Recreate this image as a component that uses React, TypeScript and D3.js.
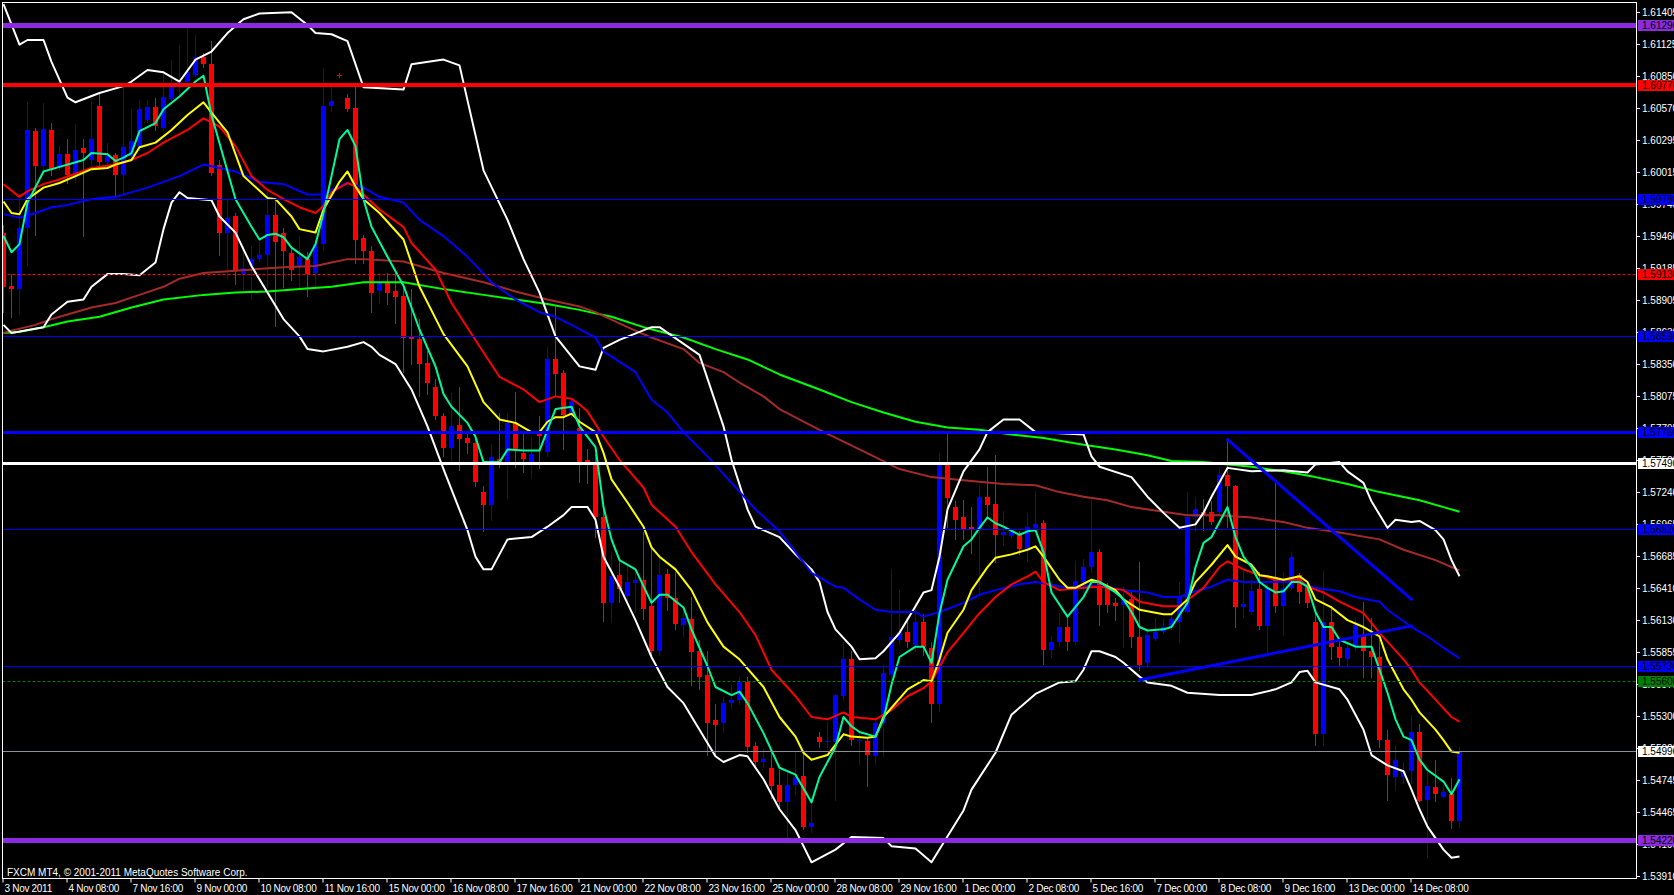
import { useEffect, useRef } from 'react';
import * as d3 from 'd3';

type Candle = [number, number, number, number]; // open, high, low, close
type Pt = [number, number]; // bar index, price

// GBPUSD H4, 3 Nov 2011 - 15 Dec 2011
const candles: Candle[] = [
  [1.5949, 1.5956, 1.5880, 1.5902], [1.5903, 1.5913, 1.5876, 1.5900], [1.5900, 1.5978, 1.5878, 1.5953], [1.5953, 1.6062, 1.5921, 1.6038],
  [1.6037, 1.6040, 1.5947, 1.6007], [1.6007, 1.6061, 1.6004, 1.6039], [1.6038, 1.6044, 1.5999, 1.6004], [1.6005, 1.6024, 1.6004, 1.6017],
  [1.6017, 1.6030, 1.5992, 1.5999], [1.6000, 1.6043, 1.5993, 1.6021], [1.6022, 1.6030, 1.5946, 1.6018], [1.6012, 1.6063, 1.6008, 1.6030],
  [1.6059, 1.6070, 1.6004, 1.6010], [1.6010, 1.6027, 1.6008, 1.6015], [1.6016, 1.6018, 1.5980, 1.5999], [1.5999, 1.6076, 1.5983, 1.6023],
  [1.6015, 1.6056, 1.6012, 1.6028], [1.6023, 1.6064, 1.6021, 1.6056], [1.6047, 1.6064, 1.6045, 1.6058], [1.6058, 1.6066, 1.6038, 1.6041],
  [1.6040, 1.6088, 1.6038, 1.6067], [1.6065, 1.6099, 1.6064, 1.6076], [1.6075, 1.6112, 1.6069, 1.6080], [1.6080, 1.6128, 1.6079, 1.6088],
  [1.6086, 1.6120, 1.6085, 1.6101], [1.6101, 1.6105, 1.6093, 1.6095], [1.6095, 1.6115, 1.5999, 1.6001], [1.6008, 1.6012, 1.5930, 1.5949],
  [1.5949, 1.5978, 1.5910, 1.5962], [1.5963, 1.5966, 1.5904, 1.5917], [1.5913, 1.5937, 1.5900, 1.5918], [1.5920, 1.5937, 1.5891, 1.5926],
  [1.5926, 1.5941, 1.5924, 1.5930], [1.5930, 1.5984, 1.5902, 1.5964], [1.5964, 1.5978, 1.5868, 1.5941], [1.5949, 1.5953, 1.5902, 1.5933],
  [1.5931, 1.5936, 1.5908, 1.5917], [1.5919, 1.5946, 1.5902, 1.5928], [1.5926, 1.5932, 1.5894, 1.5913], [1.5914, 1.5943, 1.5901, 1.5939],
  [1.5939, 1.6092, 1.5934, 1.6059], [1.6059, 1.6076, 1.6054, 1.6063], [1.6086, 1.6087, 1.6084, 1.6085], [1.6066, 1.6069, 1.6054, 1.6056],
  [1.6057, 1.6076, 1.5923, 1.5943], [1.5944, 1.5947, 1.5923, 1.5933], [1.5933, 1.5937, 1.5880, 1.5897], [1.5898, 1.5914, 1.5888, 1.5906],
  [1.5906, 1.5914, 1.5887, 1.5897], [1.5898, 1.5914, 1.5871, 1.5893], [1.5894, 1.5904, 1.5828, 1.5858], [1.5859, 1.5900, 1.5835, 1.5857],
  [1.5857, 1.5874, 1.5807, 1.5835], [1.5836, 1.5846, 1.5809, 1.5819], [1.5815, 1.5822, 1.5787, 1.5790], [1.5790, 1.5793, 1.5755, 1.5762],
  [1.5762, 1.5810, 1.5752, 1.5781], [1.5782, 1.5815, 1.5743, 1.5770], [1.5771, 1.5776, 1.5758, 1.5767], [1.5767, 1.5770, 1.5729, 1.5733],
  [1.5724, 1.5729, 1.5690, 1.5713], [1.5713, 1.5766, 1.5700, 1.5754], [1.5753, 1.5793, 1.5746, 1.5750], [1.5750, 1.5793, 1.5719, 1.5784],
  [1.5784, 1.5811, 1.5746, 1.5761], [1.5758, 1.5776, 1.5741, 1.5753], [1.5750, 1.5772, 1.5736, 1.5757], [1.5774, 1.5790, 1.5745, 1.5773],
  [1.5759, 1.5850, 1.5755, 1.5839], [1.5839, 1.5885, 1.5807, 1.5826], [1.5827, 1.5830, 1.5761, 1.5791], [1.5793, 1.5804, 1.5789, 1.5803],
  [1.5780, 1.5797, 1.5733, 1.5750], [1.5752, 1.5761, 1.5732, 1.5748], [1.5750, 1.5757, 1.5685, 1.5702], [1.5702, 1.5713, 1.5612, 1.5628],
  [1.5628, 1.5672, 1.5611, 1.5651], [1.5652, 1.5664, 1.5629, 1.5640], [1.5634, 1.5660, 1.5629, 1.5646], [1.5645, 1.5657, 1.5620, 1.5648],
  [1.5648, 1.5689, 1.5614, 1.5623], [1.5625, 1.5676, 1.5581, 1.5586], [1.5586, 1.5668, 1.5583, 1.5652], [1.5653, 1.5657, 1.5622, 1.5632],
  [1.5632, 1.5655, 1.5605, 1.5610], [1.5609, 1.5622, 1.5599, 1.5615], [1.5614, 1.5633, 1.5557, 1.5585], [1.5586, 1.5596, 1.5553, 1.5564],
  [1.5565, 1.5586, 1.5496, 1.5524], [1.5526, 1.5540, 1.5495, 1.5522], [1.5524, 1.5546, 1.5516, 1.5541], [1.5541, 1.5557, 1.5537, 1.5544],
  [1.5544, 1.5564, 1.5540, 1.5559], [1.5559, 1.5564, 1.5499, 1.5503], [1.5504, 1.5507, 1.5486, 1.5490], [1.5490, 1.5501, 1.5486, 1.5493],
  [1.5485, 1.5501, 1.5459, 1.5469], [1.5470, 1.5483, 1.5451, 1.5455], [1.5455, 1.5482, 1.5423, 1.5470], [1.5470, 1.5499, 1.5462, 1.5477],
  [1.5478, 1.5498, 1.5432, 1.5434], [1.5434, 1.5455, 1.5429, 1.5437], [1.5512, 1.5516, 1.5503, 1.5507], [1.5507, 1.5525, 1.5503, 1.5508],
  [1.5507, 1.5549, 1.5457, 1.5548], [1.5547, 1.5594, 1.5544, 1.5579], [1.5579, 1.5586, 1.5505, 1.5509], [1.5508, 1.5515, 1.5488, 1.5509],
  [1.5508, 1.5512, 1.5469, 1.5496], [1.5495, 1.5529, 1.5488, 1.5524], [1.5524, 1.5574, 1.5495, 1.5567], [1.5565, 1.5657, 1.5561, 1.5598],
  [1.5596, 1.5639, 1.5592, 1.5603], [1.5603, 1.5614, 1.5590, 1.5594], [1.5591, 1.5628, 1.5586, 1.5611], [1.5611, 1.5618, 1.5583, 1.5590],
  [1.5589, 1.5594, 1.5525, 1.5540], [1.5540, 1.5758, 1.5534, 1.5748], [1.5748, 1.5776, 1.5694, 1.5719], [1.5711, 1.5716, 1.5683, 1.5700],
  [1.5702, 1.5717, 1.5683, 1.5692], [1.5694, 1.5711, 1.5671, 1.5692], [1.5691, 1.5729, 1.5635, 1.5720], [1.5720, 1.5746, 1.5702, 1.5713],
  [1.5714, 1.5756, 1.5663, 1.5687], [1.5687, 1.5708, 1.5678, 1.5689], [1.5686, 1.5692, 1.5685, 1.5689], [1.5687, 1.5690, 1.5670, 1.5675],
  [1.5675, 1.5706, 1.5664, 1.5694], [1.5693, 1.5725, 1.5691, 1.5696], [1.5697, 1.5700, 1.5575, 1.5587], [1.5587, 1.5599, 1.5581, 1.5594],
  [1.5594, 1.5619, 1.5591, 1.5607], [1.5607, 1.5616, 1.5587, 1.5594], [1.5594, 1.5664, 1.5592, 1.5647], [1.5646, 1.5666, 1.5637, 1.5659],
  [1.5659, 1.5717, 1.5655, 1.5672], [1.5672, 1.5675, 1.5609, 1.5626], [1.5642, 1.5645, 1.5620, 1.5626], [1.5628, 1.5632, 1.5613, 1.5625],
  [1.5626, 1.5642, 1.5590, 1.5631], [1.5631, 1.5637, 1.5590, 1.5598], [1.5598, 1.5663, 1.5570, 1.5574], [1.5576, 1.5605, 1.5572, 1.5600],
  [1.5597, 1.5615, 1.5596, 1.5603], [1.5603, 1.5614, 1.5602, 1.5607], [1.5607, 1.5620, 1.5605, 1.5614], [1.5611, 1.5646, 1.5594, 1.5633],
  [1.5620, 1.5724, 1.5620, 1.5702], [1.5702, 1.5720, 1.5690, 1.5709], [1.5707, 1.5718, 1.5691, 1.5704], [1.5707, 1.5716, 1.5696, 1.5698],
  [1.5707, 1.5745, 1.5704, 1.5739], [1.5739, 1.5770, 1.5694, 1.5729], [1.5729, 1.5730, 1.5607, 1.5624], [1.5624, 1.5657, 1.5616, 1.5627],
  [1.5620, 1.5648, 1.5618, 1.5638], [1.5640, 1.5655, 1.5605, 1.5608], [1.5608, 1.5646, 1.5585, 1.5641], [1.5650, 1.5732, 1.5620, 1.5625],
  [1.5625, 1.5655, 1.5600, 1.5641], [1.5641, 1.5672, 1.5640, 1.5668], [1.5652, 1.5654, 1.5628, 1.5637], [1.5644, 1.5646, 1.5624, 1.5628],
  [1.5611, 1.5620, 1.5505, 1.5514], [1.5514, 1.5656, 1.5505, 1.5611], [1.5611, 1.5625, 1.5579, 1.5590], [1.5590, 1.5596, 1.5573, 1.5580],
  [1.5579, 1.5594, 1.5573, 1.5589], [1.5590, 1.5616, 1.5587, 1.5609], [1.5600, 1.5629, 1.5564, 1.5586], [1.5586, 1.5615, 1.5564, 1.5581],
  [1.5581, 1.5596, 1.5503, 1.5509], [1.5509, 1.5518, 1.5457, 1.5479], [1.5477, 1.5505, 1.5466, 1.5492], [1.5477, 1.5490, 1.5472, 1.5482],
  [1.5482, 1.5531, 1.5472, 1.5516], [1.5516, 1.5523, 1.5456, 1.5456], [1.5457, 1.5481, 1.5408, 1.5469], [1.5468, 1.5492, 1.5456, 1.5462],
  [1.5460, 1.5470, 1.5460, 1.5464], [1.5462, 1.5476, 1.5433, 1.5439], [1.5439, 1.5503, 1.5434, 1.54996],
];

const dateLabels = [
  '3 Nov 2011', '4 Nov 08:00', '7 Nov 16:00', '9 Nov 00:00', '10 Nov 08:00', '11 Nov 16:00', '15 Nov 00:00', '16 Nov 08:00',
  '17 Nov 16:00', '21 Nov 00:00', '22 Nov 08:00', '23 Nov 16:00', '25 Nov 00:00', '28 Nov 08:00', '29 Nov 16:00', '1 Dec 00:00',
  '2 Dec 08:00', '5 Dec 16:00', '7 Dec 00:00', '8 Dec 08:00', '9 Dec 16:00', '13 Dec 00:00', '14 Dec 08:00',
];
const barsPerLabel = 8;

const priceTicks = [
  1.61405, 1.61125, 1.60850, 1.60570, 1.60295, 1.60015, 1.59740, 1.59460, 1.59185, 1.58905, 1.58630, 1.58350, 1.58075, 1.57795,
  1.57520, 1.57240, 1.56965, 1.56685, 1.56410, 1.56130, 1.55855, 1.55575, 1.55300, 1.55020, 1.54745, 1.54465, 1.54190, 1.53910,
];

// indicator lines as [bar, price]
const fastMa: Pt[] = [
  [0, 1.5946], [1, 1.5932], [2, 1.5939], [3, 1.5975], [5, 1.6002], [7, 1.6006], [10, 1.6012], [11, 1.6018], [13, 1.6017], [14, 1.6011],
  [15, 1.6014], [16, 1.6018], [17, 1.6037], [19, 1.6044], [20, 1.6056], [22, 1.6067], [24, 1.6080], [25, 1.6085], [26, 1.6051], [29, 1.5978],
  [31, 1.5954], [32, 1.5943], [33, 1.5947], [34, 1.5948], [35, 1.5945], [36, 1.5936], [38, 1.5926], [39, 1.5939], [40, 1.5966], [42, 1.6030],
  [43, 1.6038], [44, 1.6024], [45, 1.5978], [46, 1.5954], [48, 1.5928], [50, 1.5903], [52, 1.5865], [54, 1.5833], [55, 1.5809], [56, 1.5798],
  [58, 1.5784], [59, 1.5772], [60, 1.5750], [62, 1.5750], [63, 1.5761], [65, 1.5760], [67, 1.5760], [68, 1.5778], [69, 1.5796], [71, 1.5798],
  [72, 1.5781], [74, 1.5763], [75, 1.5711], [76, 1.5683], [77, 1.5665], [79, 1.5657], [81, 1.5628], [82, 1.5635], [83, 1.5635], [85, 1.5624],
  [86, 1.5605], [88, 1.5573], [89, 1.5555], [91, 1.5548], [92, 1.5551], [93, 1.5541], [95, 1.5515], [97, 1.5485], [99, 1.5479], [101, 1.5455],
  [102, 1.5477], [104, 1.5503], [105, 1.5529], [106, 1.5521], [107, 1.5516], [109, 1.5512], [110, 1.5527], [111, 1.5557], [112, 1.5581], [114, 1.5590],
  [115, 1.5590], [116, 1.5576], [117, 1.5619], [118, 1.5648], [120, 1.5677], [121, 1.5683], [122, 1.5693], [123, 1.5702], [124, 1.5697], [125, 1.5694],
  [127, 1.5687], [128, 1.5690], [129, 1.5691], [130, 1.5672], [131, 1.5637], [133, 1.5616], [135, 1.5633], [136, 1.5646], [137, 1.5646], [139, 1.5637],
  [140, 1.5631], [141, 1.5620], [142, 1.5607], [143, 1.5604], [145, 1.5605], [146, 1.5607], [148, 1.5628], [149, 1.5659], [150, 1.5680], [151, 1.5685],
  [152, 1.5698], [153, 1.5711], [154, 1.5685], [155, 1.5668], [156, 1.5659], [157, 1.5646], [158, 1.5641], [159, 1.5637], [160, 1.5638], [161, 1.5646],
  [162, 1.5646], [163, 1.5642], [164, 1.5620], [165, 1.5607], [166, 1.5607], [167, 1.5596], [169, 1.5590], [171, 1.5590], [172, 1.5570], [173, 1.5550],
  [174, 1.5527], [175, 1.5512], [176, 1.5509], [177, 1.5492], [178, 1.5483], [180, 1.5473], [181, 1.5462], [182, 1.5475],
];

const yellowMa: Pt[] = [
  [0, 1.5976], [1, 1.5966], [2, 1.5965], [3, 1.5978], [5, 1.5988], [7, 1.5992], [9, 1.5998], [11, 1.6004], [13, 1.6005], [14, 1.6008],
  [16, 1.6012], [17, 1.6023], [19, 1.6027], [21, 1.6038], [23, 1.6051], [25, 1.6062], [26, 1.6053], [28, 1.6036], [30, 1.5998], [33, 1.5979],
  [34, 1.5978], [36, 1.5963], [37, 1.5952], [39, 1.5949], [40, 1.5969], [42, 1.5993], [43, 1.6002], [44, 1.5989], [45, 1.5978], [47, 1.5966],
  [50, 1.5943], [52, 1.5902], [55, 1.5861], [58, 1.5833], [60, 1.5802], [62, 1.5787], [64, 1.5784], [66, 1.5776], [67, 1.5776], [68, 1.5785],
  [69, 1.5789], [70, 1.5789], [71, 1.5792], [72, 1.5785], [74, 1.5776], [75, 1.5758], [76, 1.5735], [78, 1.5715], [80, 1.5694], [81, 1.5676],
  [82, 1.5668], [84, 1.5657], [86, 1.5639], [88, 1.5611], [90, 1.5590], [92, 1.5579], [95, 1.5555], [97, 1.5529], [99, 1.5512], [100, 1.5498],
  [101, 1.5492], [103, 1.5496], [105, 1.5514], [106, 1.5512], [108, 1.5511], [109, 1.5512], [110, 1.5529], [113, 1.5553], [115, 1.5561], [116, 1.5560],
  [117, 1.5579], [118, 1.5602], [120, 1.5622], [121, 1.5639], [123, 1.5659], [124, 1.5667], [126, 1.5670], [128, 1.5674], [129, 1.5677], [130, 1.5668],
  [132, 1.5648], [133, 1.5641], [134, 1.5641], [136, 1.5648], [137, 1.5646], [139, 1.5639], [140, 1.5631], [142, 1.5622], [145, 1.5618], [146, 1.5618],
  [148, 1.5631], [149, 1.5646], [151, 1.5661], [153, 1.5678], [154, 1.5668], [156, 1.5661], [157, 1.5652], [158, 1.5651], [160, 1.5648], [162, 1.5651],
  [163, 1.5646], [164, 1.5631], [166, 1.5624], [168, 1.5613], [170, 1.5607], [172, 1.5599], [173, 1.5579], [175, 1.5553], [176, 1.5544], [177, 1.5533],
  [179, 1.5518], [180, 1.5509], [181, 1.5499], [182, 1.5498],
];

const redMa: Pt[] = [
  [0, 1.5991], [2, 1.5980], [3, 1.5985], [5, 1.5991], [7, 1.5995], [9, 1.6000], [11, 1.6005], [14, 1.6008], [16, 1.6012], [18, 1.6018],
  [20, 1.6027], [23, 1.6038], [25, 1.6048], [27, 1.6041], [29, 1.6024], [31, 1.5998], [33, 1.5986], [35, 1.5978], [37, 1.5971], [39, 1.5966],
  [40, 1.5972], [41, 1.5984], [43, 1.5992], [44, 1.5989], [45, 1.5982], [47, 1.5969], [50, 1.5954], [51, 1.5940], [54, 1.5917], [56, 1.5888],
  [60, 1.5845], [62, 1.5824], [65, 1.5813], [67, 1.5802], [69, 1.5807], [71, 1.5805], [72, 1.5800], [73, 1.5794], [75, 1.5772], [77, 1.5752],
  [80, 1.5728], [81, 1.5713], [84, 1.5694], [86, 1.5672], [89, 1.5644], [92, 1.5620], [94, 1.5600], [96, 1.5570], [99, 1.5547], [101, 1.5529],
  [103, 1.5527], [105, 1.5533], [106, 1.5529], [109, 1.5527], [111, 1.5535], [113, 1.5547], [115, 1.5554], [116, 1.5560], [118, 1.5585], [120, 1.5602],
  [122, 1.5619], [124, 1.5633], [126, 1.5644], [128, 1.5651], [129, 1.5655], [130, 1.5646], [132, 1.5639], [135, 1.5641], [137, 1.5642], [140, 1.5639],
  [142, 1.5629], [145, 1.5625], [147, 1.5625], [150, 1.5641], [152, 1.5659], [153, 1.5664], [155, 1.5657], [157, 1.5652], [159, 1.5648], [162, 1.5648],
  [163, 1.5642], [165, 1.5637], [167, 1.5629], [170, 1.5619], [172, 1.5602], [175, 1.5579], [176, 1.5570], [177, 1.5559], [179, 1.5544], [181, 1.5529],
  [182, 1.5525],
];

const blueMa: Pt[] = [
  [0, 1.5965], [2, 1.5962], [4, 1.5966], [6, 1.5971], [8, 1.5973], [11, 1.5978], [14, 1.5980], [18, 1.5988], [22, 1.5998], [25, 1.6008],
  [29, 1.6002], [32, 1.5993], [35, 1.5991], [38, 1.5982], [40, 1.5982], [41, 1.5986], [43, 1.5992], [45, 1.5988], [47, 1.5980], [50, 1.5975],
  [52, 1.5960], [55, 1.5946], [58, 1.5928], [61, 1.5906], [64, 1.5891], [67, 1.5880], [69, 1.5876], [71, 1.5869], [74, 1.5858], [75, 1.5846],
  [79, 1.5828], [81, 1.5804], [83, 1.5793], [85, 1.5776], [88, 1.5755], [91, 1.5732], [94, 1.5709], [97, 1.5690], [99, 1.5672], [101, 1.5654],
  [104, 1.5642], [105, 1.5641], [107, 1.5631], [109, 1.5622], [111, 1.5620], [114, 1.5620], [115, 1.5616], [117, 1.5620], [120, 1.5628], [122, 1.5635],
  [124, 1.5639], [127, 1.5644], [129, 1.5646], [130, 1.5645], [133, 1.5641], [135, 1.5643], [138, 1.5642], [140, 1.5639], [143, 1.5637], [145, 1.5633],
  [147, 1.5633], [149, 1.5638], [151, 1.5642], [153, 1.5648], [155, 1.5646], [159, 1.5646], [162, 1.5646], [164, 1.5641], [167, 1.5638], [169, 1.5633],
  [172, 1.5629], [173, 1.5622], [176, 1.5607], [178, 1.5599], [180, 1.5589], [182, 1.5580],
];

const brownMa: Pt[] = [
  [0, 1.5862], [1, 1.5864], [4, 1.5869], [6, 1.5874], [8, 1.5878], [11, 1.5884], [14, 1.5888], [17, 1.5895], [20, 1.5902], [22, 1.5909],
  [25, 1.5914], [29, 1.5916], [35, 1.5919], [39, 1.5920], [41, 1.5923], [43, 1.5926], [45, 1.5926], [50, 1.5924], [55, 1.5914], [60, 1.5906],
  [64, 1.5898], [68, 1.5891], [72, 1.5885], [74, 1.5880], [78, 1.5867], [81, 1.5858], [85, 1.5848], [87, 1.5836], [90, 1.5828], [92, 1.5819],
  [95, 1.5807], [97, 1.5796], [102, 1.5778], [107, 1.5761], [112, 1.5744], [116, 1.5737], [119, 1.5735], [122, 1.5733], [125, 1.5731], [129, 1.5730],
  [132, 1.5724], [135, 1.5720], [138, 1.5717], [141, 1.5711], [145, 1.5707], [148, 1.5704], [152, 1.5704], [156, 1.5702], [160, 1.5698], [163, 1.5693],
  [167, 1.5689], [172, 1.5683], [175, 1.5674], [179, 1.5665], [182, 1.5656],
];

const limeMa: Pt[] = [
  [0, 1.5862], [2, 1.5863], [5, 1.5867], [8, 1.5872], [12, 1.5876], [16, 1.5884], [20, 1.5891], [25, 1.5895], [29, 1.5897], [33, 1.5898],
  [37, 1.5900], [41, 1.5902], [45, 1.5906], [50, 1.5906], [55, 1.5900], [60, 1.5895], [64, 1.5891], [68, 1.5887], [72, 1.5882], [76, 1.5876],
  [80, 1.5867], [85, 1.5858], [89, 1.5848], [93, 1.5839], [97, 1.5826], [102, 1.5813], [106, 1.5802], [110, 1.5793], [114, 1.5785], [118, 1.5780],
  [122, 1.5778], [126, 1.5774], [130, 1.5771], [135, 1.5765], [139, 1.5761], [143, 1.5756], [146, 1.5751], [150, 1.5750], [156, 1.5746], [160, 1.5742],
  [164, 1.5737], [168, 1.5731], [172, 1.5724], [177, 1.5717], [180, 1.5711], [182, 1.5707],
];

const bandUpper: Pt[] = [
  [0, 1.6147], [2, 1.6112], [3, 1.6116], [5, 1.6116], [6, 1.6097], [8, 1.6066], [9, 1.6062], [12, 1.6070], [15, 1.6076], [16, 1.6080],
  [18, 1.6090], [20, 1.6088], [22, 1.6080], [24, 1.6099], [26, 1.6106], [28, 1.6122], [30, 1.6134], [32, 1.6139], [36, 1.6140], [38, 1.6129],
  [39, 1.6122], [41, 1.6121], [43, 1.6115], [45, 1.6075], [50, 1.6073], [51, 1.6095], [55, 1.6099], [57, 1.6094], [60, 1.6003], [63, 1.5960],
  [65, 1.5926], [67, 1.5897], [69, 1.5859], [72, 1.5833], [74, 1.5830], [75, 1.5849], [77, 1.5856], [81, 1.5867], [82, 1.5867], [87, 1.5843],
  [90, 1.5781], [91, 1.5752], [93, 1.5709], [94, 1.5694], [97, 1.5685], [99, 1.5670], [101, 1.5657], [102, 1.5646], [103, 1.5620], [104, 1.5605],
  [106, 1.5590], [107, 1.5579], [109, 1.5580], [110, 1.5586], [112, 1.5602], [114, 1.5625], [115, 1.5637], [116, 1.5639], [117, 1.5668], [118, 1.5709],
  [120, 1.5742], [122, 1.5761], [123, 1.5776], [125, 1.5787], [127, 1.5787], [129, 1.5776], [135, 1.5774], [136, 1.5755], [137, 1.5746], [141, 1.5737],
  [143, 1.5720], [145, 1.5706], [147, 1.5693], [149, 1.5696], [150, 1.5706], [151, 1.5720], [153, 1.5745], [156, 1.5742], [160, 1.5743], [163, 1.5741],
  [164, 1.5748], [167, 1.5750], [168, 1.5742], [170, 1.5732], [171, 1.5716], [173, 1.5693], [174, 1.5700], [176, 1.5698], [177, 1.5699], [179, 1.5691],
  [180, 1.5683], [181, 1.5665], [182, 1.5651],
];

const bandLower: Pt[] = [
  [0, 1.5869], [1, 1.5862], [5, 1.5867], [6, 1.5878], [8, 1.5889], [10, 1.5891], [11, 1.5902], [13, 1.5913], [15, 1.5913], [17, 1.5912],
  [19, 1.5923], [20, 1.5952], [21, 1.5975], [22, 1.5984], [23, 1.5979], [26, 1.5977], [27, 1.5963], [29, 1.5949], [31, 1.5920], [33, 1.5897],
  [35, 1.5874], [37, 1.5859], [38, 1.5848], [40, 1.5846], [43, 1.5850], [45, 1.5854], [46, 1.5850], [47, 1.5843], [49, 1.5835], [51, 1.5813],
  [53, 1.5781], [55, 1.5744], [58, 1.5691], [59, 1.5668], [60, 1.5657], [61, 1.5657], [63, 1.5683], [66, 1.5685], [68, 1.5694], [70, 1.5704],
  [71, 1.5711], [73, 1.5711], [74, 1.5700], [75, 1.5668], [77, 1.5642], [79, 1.5613], [81, 1.5581], [83, 1.5555], [85, 1.5541], [87, 1.5518],
  [89, 1.5495], [90, 1.5490], [92, 1.5496], [93, 1.5495], [95, 1.5475], [97, 1.5449], [99, 1.5431], [100, 1.5417], [101, 1.5403], [104, 1.5414],
  [106, 1.5425], [110, 1.5424], [111, 1.5417], [114, 1.5415], [116, 1.5403], [120, 1.5448], [121, 1.5466], [124, 1.5498], [126, 1.5531], [129, 1.5549],
  [132, 1.5559], [134, 1.5560], [135, 1.5570], [136, 1.5586], [137, 1.5586], [139, 1.5581], [140, 1.5576], [142, 1.5564], [143, 1.5559], [146, 1.5556],
  [148, 1.5550], [152, 1.5548], [156, 1.5548], [159, 1.5553], [161, 1.5559], [162, 1.5568], [163, 1.5569], [164, 1.5559], [167, 1.5553], [168, 1.5544],
  [170, 1.5518], [171, 1.5496], [173, 1.5487], [175, 1.5482], [176, 1.5466], [177, 1.5449], [178, 1.5434], [179, 1.5424], [180, 1.5414], [181, 1.5407],
  [182, 1.5408],
];

// horizontal levels and their look
const levelPrices = [1.6129, 1.6077, 1.5978, 1.5913, 1.5859, 1.5776, 1.5749, 1.5692, 1.5573, 1.5560, 1.54996, 1.5422];
const levelStyles = [
  { color: '#8a2be2', width: 5, dash: '' },
  { color: '#ff0000', width: 4, dash: '' },
  { color: '#0000ff', width: 1, dash: '' },
  { color: '#ff0000', width: 1, dash: '3,2' },
  { color: '#0000ff', width: 1, dash: '' },
  { color: '#0000ff', width: 3, dash: '' },
  { color: '#ffffff', width: 3, dash: '' },
  { color: '#0000ff', width: 1, dash: '' },
  { color: '#0000ff', width: 1, dash: '' },
  { color: '#008000', width: 1, dash: '3,2' },
  { color: '#8a9099', width: 1, dash: '', tag: '#ffffff' },
  { color: '#8a2be2', width: 5, dash: '' },
];

const trendLines: [Pt, Pt][] = [
  [[153, 1.57695], [176, 1.5631]],
  [[142, 1.5561], [176, 1.5608]],
];

const W = 1674;
const H = 895;
const FONT = "'Liberation Sans', Arial, sans-serif";

export default function App() {
  const svgRef = useRef<SVGSVGElement>(null);

  useEffect(() => {
    if (!svgRef.current) return;
    const svg = d3.select(svgRef.current);
    svg.selectAll('*').remove();

    const plot = { left: 2.5, top: 2.5, right: 1636.5, bottom: 878.5 };

    const x = d3.scaleLinear().domain([0, 1]).range([3.5, 11.5]);
    const y = d3.scaleLinear().domain([1.5422, 1.6129]).range([840.4, 25]);

    svg.append('rect').attr('width', W).attr('height', H).attr('fill', '#000');

    svg.append('defs').append('clipPath').attr('id', 'plot-clip')
      .append('rect')
      .attr('x', plot.left).attr('y', plot.top)
      .attr('width', plot.right - plot.left).attr('height', plot.bottom - plot.top);

    const g = svg.append('g').attr('clip-path', 'url(#plot-clip)');

    // candles
    const bull = '#0000ff';
    const bear = '#ff0000';
    const bars = g.append('g');
    candles.forEach(([o, h, l, c], i) => {
      const col = c >= o ? bull : bear;
      const cx = x(i);
      bars.append('line')
        .attr('x1', cx).attr('x2', cx)
        .attr('y1', Math.round(y(h))).attr('y2', Math.round(y(l)) + 1)
        .attr('stroke', col).attr('stroke-width', 1);
      const top = Math.round(y(Math.max(o, c)));
      const bot = Math.round(y(Math.min(o, c)));
      bars.append('rect')
        .attr('x', cx - 2.5).attr('y', top)
        .attr('width', 5).attr('height', Math.max(1, bot - top))
        .attr('fill', col);
    });

    // indicator lines
    const line = d3.line<Pt>().x(d => x(d[0])).y(d => y(d[1]));
    const series: [Pt[], string][] = [
      [limeMa, '#00ff00'],
      [brownMa, '#a52a2a'],
      [bandUpper, '#ffffff'],
      [bandLower, '#ffffff'],
      [blueMa, '#0000ff'],
      [redMa, '#ff0000'],
      [yellowMa, '#ffff00'],
      [fastMa, '#00fa9a'],
    ];
    series.forEach(([data, color]) => {
      g.append('path')
        .datum(data)
        .attr('d', line)
        .attr('fill', 'none')
        .attr('stroke', color)
        .attr('stroke-width', 2)
        .attr('stroke-linejoin', 'round');
    });

    // horizontal levels
    levelPrices.forEach((p, i) => {
      const s = levelStyles[i];
      const yy = s.width % 2 === 1 ? Math.round(y(p)) + 0.5 : Math.round(y(p));
      g.append('line')
        .attr('x1', plot.left).attr('x2', plot.right)
        .attr('y1', yy).attr('y2', yy)
        .attr('stroke', s.color)
        .attr('stroke-width', s.width)
        .attr('stroke-dasharray', s.dash || null);
    });

    // trend lines
    trendLines.forEach(([a, b]) => {
      g.append('line')
        .attr('x1', x(a[0])).attr('y1', y(a[1]))
        .attr('x2', x(b[0])).attr('y2', y(b[1]))
        .attr('stroke', '#0000ff').attr('stroke-width', 3)
        .attr('stroke-linecap', 'round');
    });

    // copyright
    svg.append('text')
      .attr('x', 7).attr('y', 876)
      .style('font-family', FONT).style('font-size', '10px')
      .attr('fill', '#fff')
      .text('FXCM MT4, \u00a9 2001-2011 MetaQuotes Software Corp.');

    // frame
    svg.append('rect')
      .attr('x', plot.left).attr('y', plot.top)
      .attr('width', plot.right - plot.left).attr('height', plot.bottom - plot.top)
      .attr('fill', 'none').attr('stroke', '#fff').attr('stroke-width', 1);

    // price axis
    const axisY = svg.append('g');
    priceTicks.forEach(p => {
      const yy = Math.round(y(p)) + 0.5;
      axisY.append('line')
        .attr('x1', plot.right).attr('x2', plot.right + 3.5)
        .attr('y1', yy).attr('y2', yy)
        .attr('stroke', '#fff');
      axisY.append('text')
        .attr('x', 1642).attr('y', yy)
        .attr('dominant-baseline', 'central')
        .style('font-family', FONT).style('font-size', '10px')
        .attr('fill', '#fff')
        .text(p.toFixed(5));
    });

    levelPrices.forEach((p, i) => {
      const s = levelStyles[i];
      const yy = Math.round(y(p));
      axisY.append('rect')
        .attr('x', 1638).attr('y', yy - 5)
        .attr('width', W - 1638).attr('height', 11)
        .attr('fill', (s as { tag?: string }).tag || s.color);
      axisY.append('text')
        .attr('x', 1642).attr('y', yy + 0.5)
        .attr('dominant-baseline', 'central')
        .style('font-family', FONT).style('font-size', '10px')
        .attr('fill', '#000')
        .text(p.toFixed(5));
    });

    // time axis
    const axisX = svg.append('g');
    dateLabels.forEach((label, k) => {
      const tx = x(k * barsPerLabel) - 0.5;
      axisX.append('line')
        .attr('x1', tx).attr('x2', tx)
        .attr('y1', plot.bottom).attr('y2', plot.bottom + 4)
        .attr('stroke', '#fff');
      axisX.append('text')
        .attr('x', tx + 1.5).attr('y', 892)
        .style('font-family', FONT).style('font-size', '10px')
        .style('letter-spacing', '-0.3px')
        .attr('fill', '#fff')
        .text(label);
    });
  }, []);

  return (
    <svg
      ref={svgRef}
      width={W}
      height={H}
      style={{ position: 'absolute', left: 0, top: 0, display: 'block' }}
    />
  );
}
